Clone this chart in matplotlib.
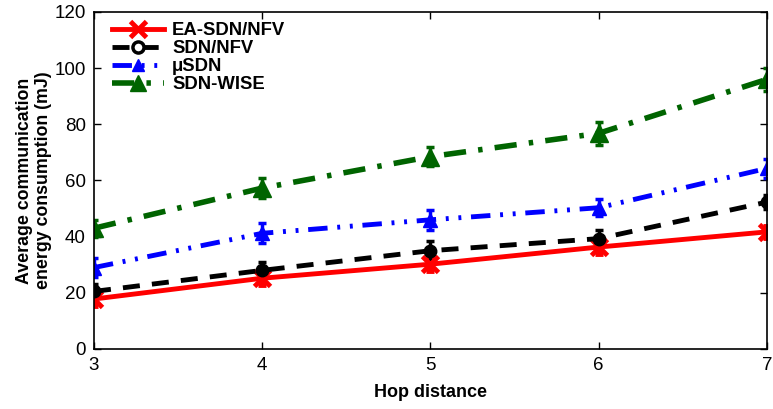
import matplotlib
matplotlib.use("Agg")
import matplotlib.pyplot as plt
from matplotlib.lines import Line2D

plt.rcParams['font.family'] = ['Liberation Sans', 'DejaVu Sans']

hops = [3, 4, 5, 6, 7]
ea_sdn_nfv = [17.8, 25.2, 30.2, 36.3, 41.7]
sdn_nfv = [20.5, 28.0, 35.0, 39.3, 52.3]
mu_sdn = [29.0, 41.2, 46.0, 50.3, 64.3]
sdn_wise = [43.0, 57.3, 68.5, 76.8, 96.0]

ea_err = [2.5, 2.5, 2.5, 2.5, 2.0]
sdn_nfv_err = [2.5, 3.0, 3.5, 3.0, 2.5]
mu_err = [3.5, 3.5, 3.5, 3.0, 3.5]
wise_err = [3.0, 3.5, 3.5, 4.0, 4.0]

labels = ['EA-SDN/NFV', 'SDN/NFV', '\u03bcSDN', 'SDN-WISE']

fig = plt.figure(figsize=(7.73, 4.09), dpi=100)
ax = fig.add_axes([0.1216, 0.1467, 0.8704, 0.824])

lw = 3.5
red_ls = '-'
black_ls = (0, (3.5, 2.5))
blue_ls = (0, (4, 2, 0.6, 2, 0.6, 2))
green_ls = (0, (4, 2.2, 0.8, 2.2))

ax.errorbar(hops, ea_sdn_nfv, yerr=ea_err, color='#ff0000', lw=lw, ls=red_ls,
            marker='x', ms=11, mew=3.5, elinewidth=2.5, capsize=3, capthick=2.5)
ax.errorbar(hops, sdn_nfv, yerr=sdn_nfv_err, color='black', lw=lw, ls=black_ls,
            marker='o', ms=9, elinewidth=2.5, capsize=3, capthick=2.5)
ax.errorbar(hops, mu_sdn, yerr=mu_err, color='#0000ff', lw=lw, ls=blue_ls,
            marker='^', ms=10, elinewidth=2.5, capsize=3, capthick=2.5)
ax.errorbar(hops, sdn_wise, yerr=wise_err, color='#006400', lw=lw + 0.5, ls=green_ls,
            marker='^', ms=13, elinewidth=2.5, capsize=3, capthick=2.5)

handles = [
    Line2D([], [], color='#ff0000', lw=lw, ls=red_ls, marker='x', ms=11, mew=3.5),
    Line2D([], [], color='black', lw=lw, ls=black_ls, marker='o', ms=8,
           mfc='white', mew=2.5),
    Line2D([], [], color='#0000ff', lw=lw, ls=blue_ls, marker='^', ms=9),
    Line2D([], [], color='#006400', lw=lw + 0.5, ls=green_ls, marker='^', ms=12),
]
ax.legend(handles, labels, loc='upper left', frameon=False, handlelength=2.8,
          handletextpad=0.45, labelspacing=0.06, borderaxespad=0, borderpad=0,
          bbox_to_anchor=(0.027, 0.97), prop={'weight': 'bold', 'size': 13.3})

ax.set_xlim(3, 7)
ax.set_ylim(0, 120)
ax.set_xticks(hops)
ax.set_yticks(range(0, 121, 20))
ax.tick_params(direction='in', top=True, right=True, length=5, width=1,
               labelsize=13.5, pad=6)
for s in ax.spines.values():
    s.set_linewidth(1.2)

ax.set_xlabel('Hop distance', fontsize=13, fontweight='bold', labelpad=7)
ax.set_ylabel('Average communication\nenergy consumption (mJ)', fontsize=12.8,
              fontweight='bold', labelpad=2, linespacing=1.1)

fig.savefig('out.png', dpi=100)
